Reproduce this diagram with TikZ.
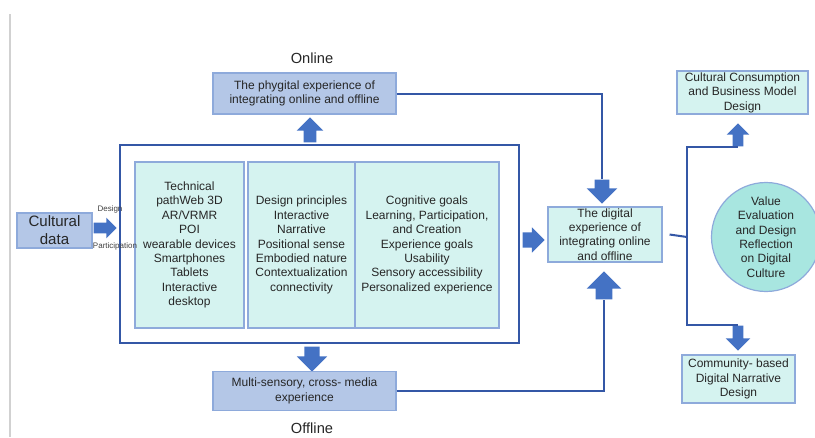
\documentclass[tikz,border=0pt]{standalone}
\usepackage{fontspec}
\setmainfont{Liberation Sans}
\usepackage{tikz}
\usetikzlibrary{positioning, shapes.arrows}
\definecolor{boxblue}{HTML}{B4C7E7}
\definecolor{boxcyan}{HTML}{D5F3F0}
\definecolor{edgeblue}{HTML}{8EAADB}
\definecolor{arrowblue}{HTML}{4472C4}
\definecolor{lineblue}{HTML}{3457A6}
\definecolor{circcyan}{HTML}{A8E6E0}
\definecolor{txtgray}{HTML}{262626}
\tikzset{
    bluebox/.style={
        rectangle,
        draw=edgeblue, % 浅蓝边框
        fill=boxblue,
        line width=0.9pt,
        inner sep=0,
        align=center,
        text=txtgray,
        font=\fontsize{9}{10.8}\selectfont
    },
    cyanbox/.style={
        bluebox,
        fill=boxcyan
    },
    blockarrow/.style={
        single arrow,
        fill=arrowblue,
        draw=none,
        inner xsep=0,
        anchor=tip
    },
    conn/.style={
        draw=lineblue,
        line width=1.5pt
    }
}

\begin{document}
\begin{tikzpicture}[x=0.75pt, y=-0.75pt]
            \useasboundingbox (0,0) rectangle (815,437);
            \draw[black!18, line width=1.5pt] (10,14) -- (10,437);

            % 大框与三列内容
            \node[draw=lineblue, line width=1.5pt, minimum width=299.25pt,
                  minimum height=148.5pt, inner sep=0] (frame) at (319.5,244) {};
            \node[cyanbox, minimum width=81.75pt, minimum height=124.5pt] (tech) at (189.5,245)
                {Technical\\pathWeb 3D\\AR/VRMR\\POI\\wearable devices\\Smartphones\\Tablets\\Interactive\\desktop};
            \node[cyanbox, minimum width=80.25pt, minimum height=124.5pt] (principle) at (301.5,245)
                {Design principles\\Interactive\\Narrative\\Positional sense\\Embodied nature\\Contextualization\\connectivity};
            \node[cyanbox, minimum width=108pt, minimum height=124.5pt] (goals) at (427,245)
                {Cognitive goals\\Learning, Participation,\\and Creation\\Experience goals\\Usability\\Sensory accessibility\\Personalized experience};

            % 输入
            \node[bluebox, minimum width=56.25pt, minimum height=26.25pt,
                  font=\fontsize{11.3}{13.5}\selectfont] (culture) at (54.5,230.5) {Cultural\\data};
            \node[blockarrow, minimum height=17.25pt, inner ysep=3.75pt,
                  single arrow head extend=3.75pt] (inarr) at (117,228) {};
            \node[text=black!75, font=\fontsize{6}{7}\selectfont] (lbldesign) at (110,209) {Design};
            \node[text=black!75, font=\fontsize{6}{7}\selectfont] (lblpart) at (115,246) {Participation};

            % 线上
            \node[font=\fontsize{11}{13}\selectfont, text=txtgray] (online) at (312,58) {Online};
            \node[bluebox, minimum width=137.25pt, minimum height=30.75pt] (phy) at (304.5,93.5)
                {The phygital experience of\\integrating online and offline};
            \node[blockarrow, rotate=90, minimum height=18.75pt, inner ysep=4.5pt,
                  single arrow head extend=5.25pt] (upfr) at (310,117) {};

            % 线下
            \node[blockarrow, rotate=-90, minimum height=18.75pt, inner ysep=5.6pt,
                  single arrow head extend=5.6pt] (dnfr) at (312,372) {};
            \node[bluebox, minimum width=137.25pt, minimum height=29.25pt] (multi) at (304.5,391)
                {Multi-sensory, cross- media\\experience};
            \node[font=\fontsize{11}{13}\selectfont, text=txtgray] (offline) at (312,428) {Offline};

            % 数字体验
            \node[cyanbox, minimum width=85.5pt, minimum height=41.25pt] (digital) at (605,234.5)
                {The digital\\experience of\\integrating online\\and offline};
            \node[blockarrow, minimum height=16.5pt, inner ysep=5.6pt,
                  single arrow head extend=3.75pt] (toarr) at (545,240) {};
            \node[blockarrow, rotate=-90, minimum height=18pt, inner ysep=5.25pt,
                  single arrow head extend=6pt] (dnarr) at (602,204) {};
            \node[blockarrow, rotate=90, minimum height=21pt, inner ysep=6pt,
                  single arrow head extend=6.75pt] (uparr) at (604,271) {};
            \draw[conn] (phy.east) -| (dnarr.tail);
            \draw[conn] (multi.east) -| (uparr.tail);

            % 右侧分支
            \node[cyanbox, minimum width=98.25pt, minimum height=32.25pt] (consume) at (742.5,92.5)
                {Cultural Consumption\\and Business Model\\Design};
            \node[cyanbox, minimum width=84.75pt, minimum height=36pt] (community) at (738.5,379)
                {Community- based\\Digital Narrative\\Design};
            \node[circle, draw=edgeblue, fill=circcyan, line width=0.9pt, minimum size=81.75pt,
                  inner sep=0, align=center, text=txtgray, font=\fontsize{9}{10.8}\selectfont] (value) at (766,237)
                {Value\\Evaluation\\and Design\\Reflection\\on Digital\\Culture};
            \node[blockarrow, rotate=90, minimum height=17.25pt, inner ysep=3.75pt,
                  single arrow head extend=4.5pt] (ccarr) at (738,123) {};
            \node[blockarrow, rotate=-90, minimum height=18.75pt, inner ysep=3.75pt,
                  single arrow head extend=5.25pt] (comarr) at (738,351) {};
            \coordinate (split) at (687,237);
            \draw[conn] ([xshift=5.25pt]digital.east) -- (split);
            \draw[conn] (split) |- (ccarr.tail);
            \draw[conn] (split) |- (comarr.tail);
\end{tikzpicture}
\end{document}
